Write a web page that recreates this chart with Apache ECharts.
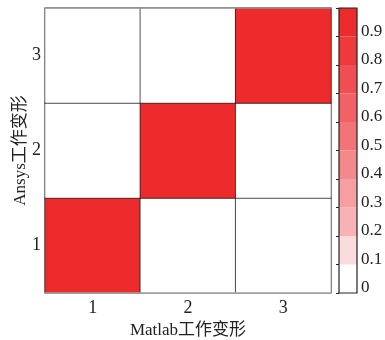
<!DOCTYPE html>
<html><head><meta charset="utf-8">
<script src="https://cdn.jsdelivr.net/npm/echarts@6/dist/echarts.min.js"></script>
<style>html,body{margin:0;padding:0;background:#fff}#c{width:385px;height:340px}</style>
</head><body><div id="c"></div>
<script>
const xCategories = ['1', '2', '3'];
const yCategories = ['1', '2', '3'];
// [xIndex, yIndex, value]
const cellValues = [
  [0, 0, 1], [1, 0, 0], [2, 0, 0],
  [0, 1, 0], [1, 1, 1], [2, 1, 0],
  [0, 2, 0], [1, 2, 0], [2, 2, 1]
];
const bandEdges = [0, 0.1, 0.2, 0.3, 0.4, 0.5, 0.6, 0.7, 0.8, 0.9, 1];
const bandColors = ['#FFFFFF', '#FADCDD', '#F8B2B4', '#F69FA2', '#F4898C', '#F27477', '#F16166', '#F04E52', '#EE3A3D', '#EE2B2C'];
const colorbarLabels = ['0', '0.1', '0.2', '0.3', '0.4', '0.5', '0.6', '0.7', '0.8', '0.9'];
const xTitle = 'Matlab工作变形';
const yTitle = 'Ansys工作变形';

const FONT = "'Liberation Serif', 'Noto Sans CJK SC', serif";
const bands = bandColors.map((c, i) => [bandEdges[i], bandEdges[i + 1], i]);

const chart = echarts.init(document.getElementById('c'), null, {renderer: 'canvas'});
chart.setOption({
  animation: false,
  backgroundColor: '#fff',
  textStyle: {fontFamily: FONT},
  grid: [
    {left: 45, top: 8, width: 286, height: 285, outerBoundsMode: 'none', containLabel: false},
    {left: 339, top: 8, width: 18, height: 285, outerBoundsMode: 'none', containLabel: false}
  ],
  visualMap: {
    type: 'piecewise', show: false, seriesIndex: 0, dimension: 2,
    pieces: bands.map((b, i) => i === bands.length - 1
      ? {gte: b[0], lte: b[1], color: bandColors[i]}
      : {gte: b[0], lt: b[1], color: bandColors[i]})
  },
  xAxis: [
    {type: 'category', gridIndex: 0, data: xCategories, position: 'bottom', z: 10,
     axisLine: {show: true, lineStyle: {color: '#aaa', width: 1.5}},
     axisTick: {show: false},
     axisLabel: {fontFamily: FONT, fontSize: 18, color: '#222', margin: 6},
     splitLine: {show: false},
     name: xTitle, nameLocation: 'middle', nameGap: 29, nameMoveOverlap: false,
     nameTextStyle: {fontFamily: FONT, fontSize: 17, color: '#222'}},
    {type: 'category', gridIndex: 0, data: xCategories, position: 'top', z: 10,
     axisLine: {show: true, lineStyle: {color: '#999', width: 1.5}},
     axisTick: {show: false}, axisLabel: {show: false}},
    {type: 'value', gridIndex: 1, min: 0, max: 1, show: false}
  ],
  yAxis: [
    {type: 'category', gridIndex: 0, data: yCategories,
     axisLine: {show: false}, axisTick: {show: false},
     axisLabel: {fontFamily: FONT, fontSize: 18, color: '#222', margin: 4},
     name: yTitle, nameLocation: 'middle', nameGap: 16, nameMoveOverlap: false,
     nameTextStyle: {fontFamily: FONT, fontSize: 17, color: '#222'}},
    {type: 'value', gridIndex: 1, min: 0, max: 1, interval: 0.1, position: 'right', z: 10,
     axisLine: {show: false},
     axisTick: {show: true, inside: true, length: 3, lineStyle: {color: '#222', width: 1}},
     splitLine: {show: false},
     axisLabel: {fontFamily: FONT, fontSize: 17, color: '#222', margin: 4,
       verticalAlign: 'bottom', lineHeight: 10,
       formatter: (v) => {
         const i = Math.round(v * 10);
         return i < colorbarLabels.length ? colorbarLabels[i] : '';
       }}}
  ],
  series: [
    {type: 'heatmap', xAxisIndex: 0, yAxisIndex: 0, data: cellValues,
     itemStyle: {borderColor: 'rgba(0,0,0,0.65)', borderWidth: 1}},
    {type: 'custom', xAxisIndex: 2, yAxisIndex: 1, data: bands,
     renderItem: (params, api) => {
       const p0 = api.coord([0, api.value(0)]);
       const p1 = api.coord([1, api.value(1)]);
       return {type: 'rect',
         shape: {x: p0[0], y: p1[1], width: p1[0] - p0[0], height: p0[1] - p1[1]},
         style: {fill: bandColors[api.value(2)]}};
     }},
    {type: 'custom', xAxisIndex: 2, yAxisIndex: 1, data: [[0, 1]], z: 5,
     renderItem: (params, api) => {
       const p0 = api.coord([0, 0]);
       const p1 = api.coord([1, 1]);
       return {type: 'rect',
         shape: {x: p0[0], y: p1[1], width: p1[0] - p0[0], height: p0[1] - p1[1]},
         style: {fill: 'none', stroke: '#222', lineWidth: 1.2}};
     }}
  ]
});
</script></body></html>
